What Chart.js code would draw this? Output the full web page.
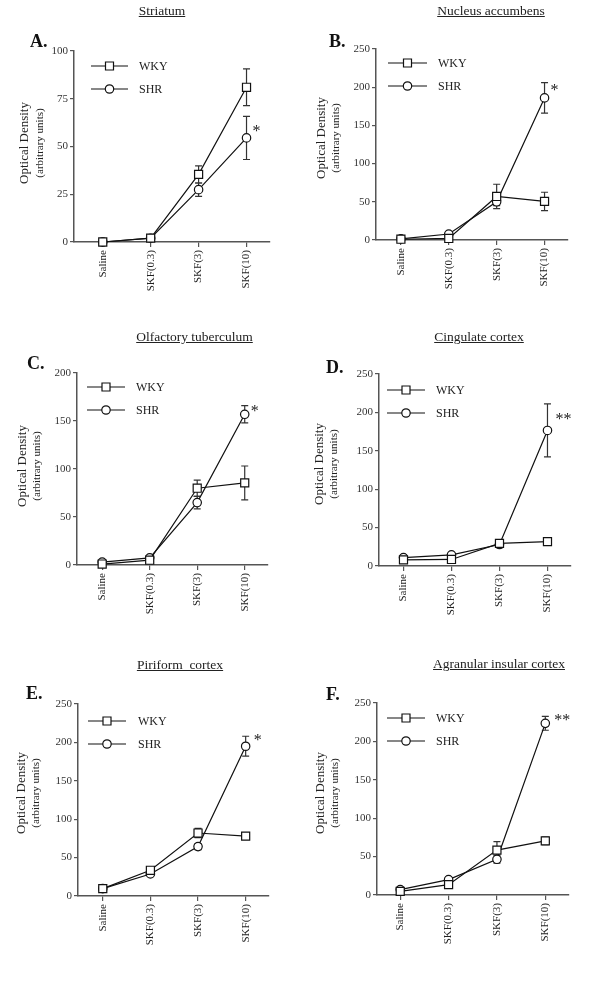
<!DOCTYPE html>
<html><head><meta charset="utf-8">
<script src="https://cdn.jsdelivr.net/npm/chart.js@4"></script>
<style>
body{margin:0;background:#fff;width:600px;height:1000px;position:relative;overflow:hidden;font-family:'Liberation Serif','Times New Roman',serif;color:#222;}
.panel{position:absolute;width:300px;height:330px;}
.panel canvas{position:absolute;left:0;top:0;}
.title{position:absolute;font-size:13.5px;text-decoration:underline;white-space:pre;transform:translate(-50%,-50%);color:#222;}
.letter{position:absolute;font-weight:bold;font-size:18px;transform:translate(0,-50%);color:#111;}
</style></head><body>
<script>
// ---------- DATA ----------
const categories = ['Saline', 'SKF(0.3)', 'SKF(3)', 'SKF(10)'];
const seriesNames = ['WKY', 'SHR'];
const panelTitles = ['Striatum', 'Nucleus accumbens', 'Olfactory tuberculum', 'Cingulate cortex', 'Piriform  cortex', 'Agranular insular cortex'];
const panelLetters = ['A.', 'B.', 'C.', 'D.', 'E.', 'F.'];
const yMaxes = [100, 250, 200, 250, 250, 250];
const ySteps = [25, 50, 50, 50, 50, 50];
const significance = ['*', '*', '*', '**', '*', '**'];

const wkyA = [0, 2, 35.4, 81];      const wkyErrA = [0.5, 0.5, 4.5, 9.6];
const shrA = [0, 2, 27.4, 54.5];    const shrErrA = [0.5, 0.5, 3.5, 11.3];
const wkyB = [1, 2, 57, 50.5];      const wkyErrB = [1, 1.5, 16, 12];
const shrB = [1.5, 7.8, 50, 186];   const shrErrB = [1, 2, 5, 20];
const wkyC = [1, 5, 80, 85.5];      const wkyErrC = [1, 1.5, 8.5, 17.6];
const shrC = [3, 7.5, 65, 157];     const shrErrC = [1, 1.5, 6.5, 9];
const wkyD = [8, 8.5, 29.5, 31.8];  const wkyErrD = [2, 2, 5, 3];
const shrD = [11, 14.5, 28, 176.5]; const shrErrD = [2, 2, 4, 34.5];
const wkyE = [9.6, 33.5, 82, 78];   const wkyErrE = [2, 3, 6, 3];
const shrE = [9.6, 28.7, 64.3, 195];const shrErrE = [2, 3, 4, 13];
const wkyF = [4.8, 13.5, 58.5, 70.5]; const wkyErrF = [2, 3, 11, 5];
const shrF = [7, 20, 46.5, 223.5];  const shrErrF = [2, 2, 5, 9];

const wkyAll = [wkyA, wkyB, wkyC, wkyD, wkyE, wkyF];
const wkyErrAll = [wkyErrA, wkyErrB, wkyErrC, wkyErrD, wkyErrE, wkyErrF];
const shrAll = [shrA, shrB, shrC, shrD, shrE, shrF];
const shrErrAll = [shrErrA, shrErrB, shrErrC, shrErrD, shrErrE, shrErrF];

// ---------- LAYOUT (positions / styles) ----------
const layouts = [
  {left:0,   top:0,   L:74,   T:51,   R:270, B:242, xMin:-0.6,  tx:162,   ty:11,  lx:30,  ly:41,  yt1:25, yt2:40, ytc:143, lg:[91,128,66,89,139],  sdx:10, sdy:-10},
  {left:300, top:0,   L:76,   T:49,   R:268, B:240, xMin:-0.52, tx:491,   ty:11,  lx:329, ly:41,  yt1:22, yt2:36, ytc:138, lg:[88,127,63,86,138],  sdx:10, sdy:-11},
  {left:0,   top:324, L:77,   T:49,   R:268, B:241, xMin:-0.53, tx:194.5, ty:337, lx:27,  ly:363, yt1:23, yt2:37, ytc:142, lg:[87,125,63,86,136],  sdx:10, sdy:-6},
  {left:300, top:324, L:79,   T:50,   R:271, B:242, xMin:-0.51, tx:479,   ty:337, lx:326, ly:367, yt1:20, yt2:34, ytc:140, lg:[87,125,66,89,136],  sdx:16, sdy:-15},
  {left:0,   top:654, L:78,   T:50,   R:269, B:242, xMin:-0.52, tx:180,   ty:665, lx:26,  ly:693, yt1:22, yt2:36, ytc:139, lg:[88,126,67,90,138],  sdx:12, sdy:-9},
  {left:300, top:654, L:77,   T:49,   R:269, B:241, xMin:-0.48, tx:499,   ty:664, lx:326, ly:694, yt1:21, yt2:35, ytc:139, lg:[87,125,64,87,136],  sdx:17, sdy:-7}
];
const FONT = "'Liberation Serif', 'Times New Roman', serif";
const AXIS_COLOR = '#555';

// ---------- PLUGINS ----------
const errorBars = {
  id: 'errorBars',
  beforeDatasetsDraw(chart) {
    const {ctx, scales: {x, y}} = chart;
    ctx.save();
    ctx.strokeStyle = '#333';
    ctx.lineWidth = 1.2;
    chart.data.datasets.forEach(ds => {
      ds.data.forEach((p, i) => {
        const e = ds.errors[i];
        if (!e) return;
        const px = x.getPixelForValue(p.x);
        const top = y.getPixelForValue(p.y + e);
        const bot = y.getPixelForValue(Math.max(p.y - e, 0));
        ctx.beginPath();
        ctx.moveTo(px, top); ctx.lineTo(px, bot);
        ctx.moveTo(px - 3.5, top); ctx.lineTo(px + 3.5, top);
        ctx.moveTo(px - 3.5, bot); ctx.lineTo(px + 3.5, bot);
        ctx.stroke();
      });
    });
    ctx.restore();
  }
};

function drawMarker(ctx, style, x, y) {
  ctx.beginPath();
  if (style === 'rect') {
    ctx.rect(x - 4, y - 4, 8, 8);
  } else {
    ctx.arc(x, y, 4.2, 0, Math.PI * 2);
  }
  ctx.fillStyle = '#fff';
  ctx.fill();
  ctx.strokeStyle = '#111';
  ctx.lineWidth = 1.2;
  ctx.stroke();
}

const extras = {
  id: 'extras',
  afterDraw(chart, args, opts) {
    const {ctx, scales: {x, y}} = chart;
    const lay = opts.lay;
    ctx.save();
    // legend
    const [x1, x2, y1, y2, tx] = lay.lg;
    [[y1, 'rect', seriesNames[0]], [y2, 'circle', seriesNames[1]]].forEach(([yy, st, name]) => {
      ctx.beginPath();
      ctx.moveTo(x1, yy); ctx.lineTo(x2, yy);
      ctx.strokeStyle = '#111'; ctx.lineWidth = 1.2; ctx.stroke();
      drawMarker(ctx, st, (x1 + x2) / 2, yy);
      ctx.fillStyle = '#222';
      ctx.font = '12px ' + FONT;
      ctx.textAlign = 'left'; ctx.textBaseline = 'middle';
      ctx.fillText(name, tx, yy + 1);
    });
    // y title
    ctx.fillStyle = '#222';
    ctx.textAlign = 'center'; ctx.textBaseline = 'middle';
    ctx.save();
    ctx.translate(lay.yt1, lay.ytc); ctx.rotate(-Math.PI / 2);
    ctx.font = '13px ' + FONT;
    ctx.fillText('Optical Density', 0, 0);
    ctx.restore();
    ctx.save();
    ctx.translate(lay.yt2, lay.ytc); ctx.rotate(-Math.PI / 2);
    ctx.font = '11px ' + FONT;
    ctx.fillText('(arbitrary units)', 0, 0);
    ctx.restore();
    // significance marker
    const shr = chart.data.datasets[1];
    const last = shr.data[shr.data.length - 1];
    const px = x.getPixelForValue(last.x) + lay.sdx;
    const py = y.getPixelForValue(last.y) + lay.sdy;
    ctx.font = '16px ' + FONT;
    ctx.fillStyle = '#222';
    ctx.textAlign = 'center'; ctx.textBaseline = 'middle';
    ctx.fillText(opts.star, px, py + 4);
    ctx.restore();
  }
};

// ---------- BUILD ----------
layouts.forEach((lay, k) => {
  const div = document.createElement('div');
  div.className = 'panel';
  div.style.left = lay.left + 'px';
  div.style.top = lay.top + 'px';
  const cv = document.createElement('canvas');
  cv.width = 300; cv.height = 330;
  cv.style.width = '300px'; cv.style.height = '330px';
  div.appendChild(cv);
  document.body.appendChild(div);

  const t = document.createElement('div');
  t.className = 'title'; t.textContent = panelTitles[k];
  t.style.left = lay.tx + 'px'; t.style.top = lay.ty + 'px';
  document.body.appendChild(t);
  const l = document.createElement('div');
  l.className = 'letter'; l.textContent = panelLetters[k];
  l.style.left = lay.lx + 'px'; l.style.top = lay.ly + 'px';
  document.body.appendChild(l);

  const mk = arr => arr.map((v, i) => ({x: i, y: v}));
  new Chart(cv, {
    type: 'line',
    data: {
      datasets: [
        {label: seriesNames[0], data: mk(wkyAll[k]), errors: wkyErrAll[k], borderColor: '#111', borderWidth: 1.2,
         pointStyle: 'rect', pointRadius: 5.7, pointBackgroundColor: '#fff', pointBorderColor: '#111', pointBorderWidth: 1.2,
         tension: 0, clip: false},
        {label: seriesNames[1], data: mk(shrAll[k]), errors: shrErrAll[k], borderColor: '#111', borderWidth: 1.2,
         pointStyle: 'circle', pointRadius: 4.2, pointBackgroundColor: '#fff', pointBorderColor: '#111', pointBorderWidth: 1.2,
         tension: 0, clip: false}
      ]
    },
    options: {
      responsive: false,
      animation: false,
      devicePixelRatio: 1,
      layout: {padding: {left: 0, top: lay.T, right: 300 - lay.R, bottom: 0}},
      plugins: {legend: {display: false}, tooltip: {enabled: false}, extras: {lay: lay, star: significance[k]}},
      scales: {
        x: {
          type: 'linear', min: lay.xMin, max: 3.49,
          afterBuildTicks: s => { s.ticks = categories.map((c, i) => ({value: i})); },
          afterFit: s => { s.height = 330 - lay.B; },
          ticks: {callback: v => categories[v], autoSkip: false, minRotation: 90, maxRotation: 90, padding: 3,
                  color: '#222', font: {family: FONT, size: 11}},
          grid: {drawOnChartArea: false, drawTicks: true, tickLength: 5, color: AXIS_COLOR, lineWidth: 1.2},
          border: {display: true, color: AXIS_COLOR, width: 1.5}
        },
        y: {
          min: 0, max: yMaxes[k],
          afterFit: s => { s.width = lay.L; },
          ticks: {stepSize: ySteps[k], padding: 2, color: '#333', font: {family: FONT, size: 11}},
          grid: {drawOnChartArea: false, drawTicks: true, tickLength: 4, color: AXIS_COLOR, lineWidth: 1.2},
          border: {display: true, color: AXIS_COLOR, width: 1.5}
        }
      }
    },
    plugins: [errorBars, extras]
  });
});
</script>
</body></html>
